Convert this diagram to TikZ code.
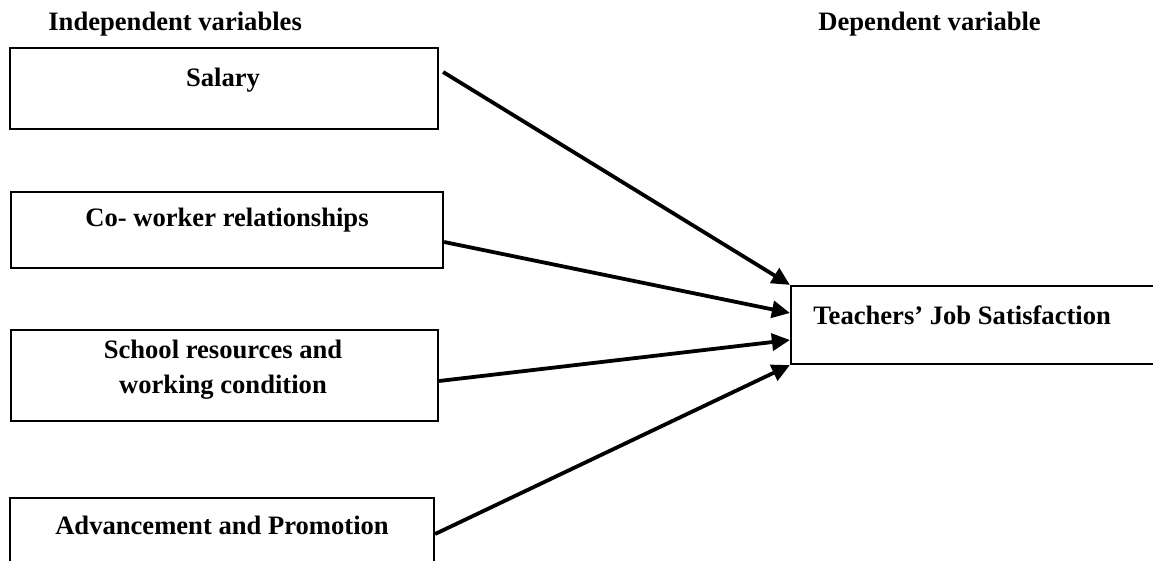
\documentclass[tikz,border=0pt]{standalone}
\usepackage{fontspec}
\setmainfont{Liberation Serif}
\usetikzlibrary{arrows.meta}
\begin{document}
\begin{tikzpicture}[x=0.5pt,y=-0.5pt,
  box/.style={draw,line width=1.1pt,rectangle,inner sep=0pt},
  lbl/.style={inner sep=0pt,font=\fontsize{13.3}{17.5}\selectfont\bfseries,align=center},
  arr/.style={line width=1.9pt,-{Triangle[length=9pt,width=8.5pt]}}]
\useasboundingbox (0,0) rectangle (1153,561);
\fill[white] (0,0) rectangle (1153,561);
% headings
\node[lbl,anchor=west] (indep) at (48,24) {Independent variables};
\node[lbl,anchor=west] (dep) at (818,24) {Dependent variable};
% boxes
\node[box,minimum width=214pt,minimum height=40.5pt] (sal) at (224,88.5) {};
\node[box,minimum width=216pt,minimum height=38pt] (cow) at (227,230) {};
\node[box,minimum width=213.5pt,minimum height=45.5pt] (sch) at (224.5,375.5) {};
\node[box,minimum width=212pt,minimum height=51pt] (adv) at (222,549) {};
\node[box,minimum width=204.5pt,minimum height=39pt] (tjs) at (995.5,325) {};
% texts
\node[lbl] (salt) at (223,80) {Salary};
\node[lbl] (cowt) at (227,220) {Co- worker relationships};
\node[lbl] (scht) at (223,370) {School resources and\\working condition};
\node[lbl] (advt) at (222,525) {Advancement and Promotion};
\node[lbl,anchor=west] (tjst) at (813,315) {Teachers’ Job Satisfaction};
% arrows
\draw[arr] ([xshift=2pt,yshift=8.25pt]sal.east) -- (tjs.north west);
\draw[arr] ([yshift=-6pt]cow.east) -- ([yshift=6pt]tjs.west);
\draw[arr] ([yshift=-2.75pt]sch.east) -- ([yshift=-7.5pt]tjs.west);
\draw[arr] ([yshift=7.5pt]adv.east) -- (tjs.south west);
\end{tikzpicture}
\end{document}
